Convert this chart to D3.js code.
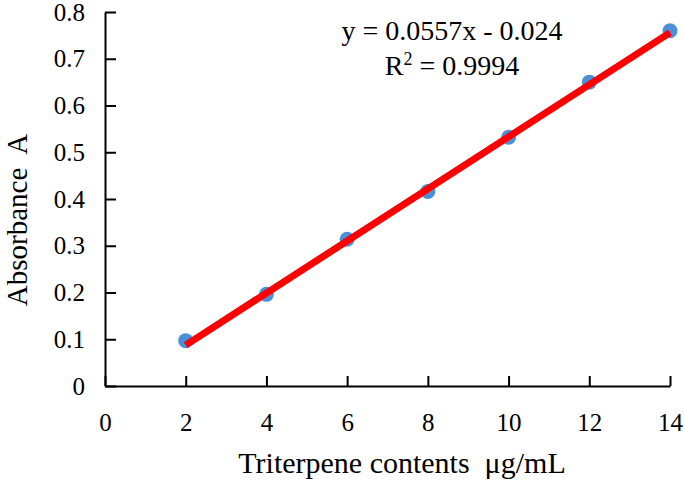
<!DOCTYPE html>
<html lang="en">
<head>
  <meta charset="UTF-8" />
  <title>Triterpene standard curve</title>
  <script src="https://d3js.org/d3.v7.min.js"></script>
  <style>
    body {
      margin: 0;
      background: white;
    }

    svg {
      display: block;
      font-family: "Liberation Serif", "Times New Roman", serif;
    }

    .axis path,
    .axis line {
      stroke: black;
      stroke-width: 2;
    }

    .axis text {
      font-family: "Liberation Serif", "Times New Roman", serif;
      font-size: 25px;
      fill: black;
    }
  </style>
</head>
<body>

  <svg width="685" height="483"></svg>

  <script>
    // Data
    const concentrations = [2, 4, 6, 8, 10, 12, 14];
    const absorbances = [0.097, 0.196, 0.314, 0.416, 0.532, 0.650, 0.760];
    const xTicks = [0, 2, 4, 6, 8, 10, 12, 14];
    const yTicks = [0, 0.1, 0.2, 0.3, 0.4, 0.5, 0.6, 0.7, 0.8];
    const slope = 0.0557;
    const intercept = -0.024;
    const equationLines = ["y = 0.0557x - 0.024", "R", "2", " = 0.9994"];

    const svg = d3.select("svg");
    const width = +svg.attr("width");
    const height = +svg.attr("height");
    const margin = { top: 12, right: 15, bottom: 97, left: 105 };

    const xScale = d3.scaleLinear()
      .domain([0, 14])
      .range([margin.left, width - margin.right]);

    const yScale = d3.scaleLinear()
      .domain([0, 0.8])
      .range([height - margin.bottom, margin.top]);

    // Axes, ticks pointing inward
    const xAxis = d3.axisBottom(xScale)
      .tickValues(xTicks)
      .tickSizeInner(-10)
      .tickSizeOuter(0)
      .tickPadding(45)
      .tickFormat(d3.format("d"));

    const yAxis = d3.axisLeft(yScale)
      .tickValues(yTicks)
      .tickSizeInner(-11)
      .tickSizeOuter(0)
      .tickPadding(20)
      .tickFormat(d => d === 0 ? "0" : d3.format(".1f")(d));

    svg.append("g")
      .attr("class", "axis")
      .attr("transform", `translate(0, ${height - margin.bottom})`)
      .call(xAxis)
      .selectAll("text")
      .attr("dy", "0");

    svg.append("g")
      .attr("class", "axis")
      .attr("transform", `translate(${margin.left}, 0)`)
      .call(yAxis);

    // Points
    const points = concentrations.map((c, i) => ({ x: c, y: absorbances[i] }));

    svg.selectAll("circle")
      .data(points)
      .enter()
      .append("circle")
      .attr("cx", d => xScale(d.x))
      .attr("cy", d => yScale(d.y))
      .attr("r", 7.5)
      .attr("fill", "#4a90d9");

    // Linear trendline
    const xMin = d3.min(concentrations);
    const xMax = d3.max(concentrations);
    svg.append("line")
      .attr("x1", xScale(xMin))
      .attr("y1", yScale(slope * xMin + intercept))
      .attr("x2", xScale(xMax))
      .attr("y2", yScale(slope * xMax + intercept))
      .attr("stroke", "#ff0000")
      .attr("stroke-width", 7);

    // Equation text
    svg.append("text")
      .attr("x", 452)
      .attr("y", 40)
      .attr("text-anchor", "middle")
      .attr("font-size", 28)
      .text(equationLines[0]);

    const r2 = svg.append("text")
      .attr("x", 452)
      .attr("y", 75)
      .attr("text-anchor", "middle")
      .attr("font-size", 28);
    r2.append("tspan").text(equationLines[1]);
    r2.append("tspan").attr("font-size", 18).attr("dy", -10).text(equationLines[2]);
    r2.append("tspan").attr("dy", 10).text(equationLines[3]);

    // Axis titles
    svg.append("text")
      .attr("x", 402)
      .attr("y", 473)
      .attr("text-anchor", "middle")
      .attr("font-size", 30)
      .style("white-space", "pre")
      .text("Triterpene contents  \u03bcg/mL");

    svg.append("text")
      .attr("transform", "translate(27, 220) rotate(-90)")
      .attr("text-anchor", "middle")
      .attr("font-size", 29)
      .style("white-space", "pre")
      .text("Absorbance  A");
  </script>
</body>
</html>
